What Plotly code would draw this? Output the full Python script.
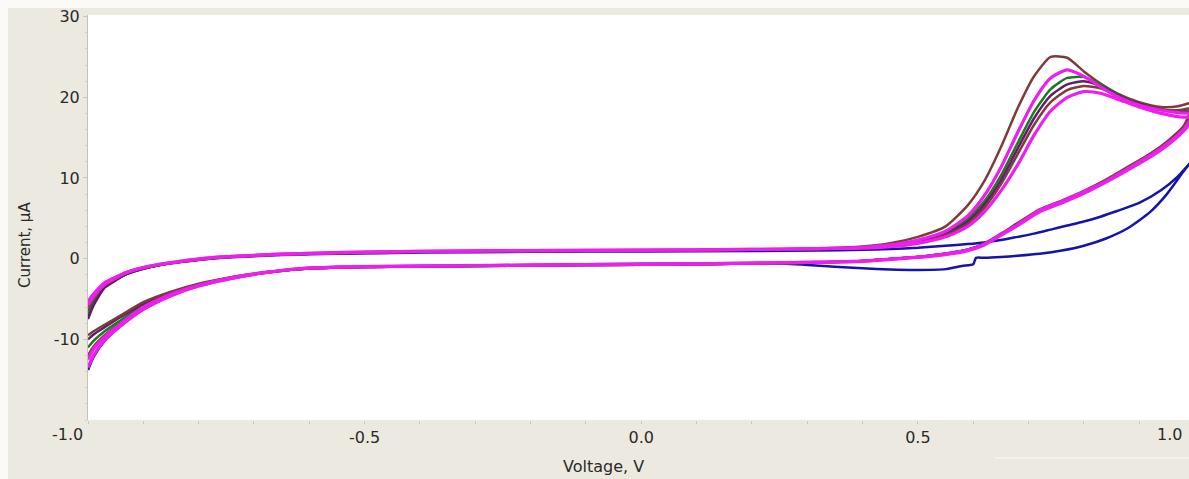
import plotly.graph_objects as go

# ---------------- data ----------------
V_FWD = [-1.0, -0.99, -0.97, -0.95, -0.93, -0.90, -0.87, -0.83, -0.78, -0.72, -0.65,
         -0.55, -0.40, -0.20, 0.0, 0.20, 0.32, 0.40, 0.45, 0.50, 0.55, 0.59, 0.62,
         0.65, 0.68, 0.71, 0.74, 0.77, 0.80, 0.83, 0.86, 0.90, 0.94, 0.97, 1.0]

V_REV = [1.0, 0.98, 0.95, 0.92, 0.88, 0.84, 0.80, 0.76, 0.72, 0.68, 0.65, 0.62, 0.59,
         0.55, 0.50, 0.45, 0.40, 0.30, 0.10, -0.10, -0.30, -0.45, -0.55, -0.62, -0.68,
         -0.74, -0.80, -0.85, -0.90, -0.94, -0.97, -0.99, -1.0]

# forward sweeps (anodic) of the six scans that show the oxidation peak
I_FWD_BROWN1 = [-6.5, -5.2, -3.4, -2.5, -1.8, -1.2, -0.75, -0.35, 0.05, 0.3, 0.5,
                0.7, 0.85, 0.95, 1.0, 1.1, 1.25, 1.5, 1.9, 2.7, 4.0, 6.6, 9.6,
                13.8, 18.6, 22.6, 25.0, 24.9, 23.2, 21.7, 20.5, 19.4, 18.8, 18.9, 19.5]
I_FWD_MAGENTA1 = [-5.3, -4.4, -3.0, -2.3, -1.7, -1.1, -0.7, -0.3, 0.1, 0.35, 0.55,
                  0.75, 0.9, 1.0, 1.05, 1.15, 1.25, 1.4, 1.7, 2.3, 3.4, 5.3, 7.8,
                  11.3, 15.6, 19.6, 22.4, 23.4, 22.6, 21.3, 20.1, 19.0, 18.4, 18.1, 18.0]
I_FWD_GREEN = [-7.0, -5.5, -3.5, -2.6, -1.9, -1.2, -0.8, -0.35, 0.05, 0.3, 0.5,
               0.7, 0.85, 0.95, 1.0, 1.1, 1.2, 1.4, 1.7, 2.2, 3.2, 4.9, 7.1,
               10.3, 14.3, 18.2, 21.0, 22.4, 22.5, 21.6, 20.4, 19.2, 18.5, 18.3, 18.4]
I_FWD_PURPLE = [-7.5, -5.8, -3.6, -2.7, -1.9, -1.25, -0.8, -0.4, 0.0, 0.3, 0.5,
                0.7, 0.85, 0.95, 1.0, 1.1, 1.2, 1.4, 1.6, 2.1, 3.0, 4.6, 6.7,
                9.7, 13.6, 17.4, 20.2, 21.6, 22.0, 21.4, 20.3, 19.2, 18.5, 18.2, 18.2]
I_FWD_BROWN2 = [-6.0, -4.9, -3.3, -2.5, -1.8, -1.2, -0.75, -0.35, 0.05, 0.3, 0.5,
                0.7, 0.85, 0.95, 1.0, 1.1, 1.2, 1.4, 1.6, 2.0, 2.9, 4.3, 6.3,
                9.2, 12.9, 16.6, 19.4, 20.9, 21.4, 21.1, 20.2, 19.1, 18.5, 18.4, 18.8]
I_FWD_MAGENTA2 = [-5.8, -4.7, -3.2, -2.4, -1.7, -1.1, -0.7, -0.3, 0.1, 0.35, 0.55,
                  0.75, 0.9, 1.0, 1.05, 1.15, 1.25, 1.3, 1.5, 1.9, 2.7, 4.0, 5.8,
                  8.4, 11.6, 15.3, 18.3, 20.0, 20.7, 20.5, 19.8, 18.8, 18.0, 17.6, 17.5]

# reverse sweeps (cathodic)
I_REV_BROWN1 = [19.5, 16.4, 14.5, 13.0, 11.4, 9.8, 8.4, 7.2, 6.1, 4.4, 3.1, 1.9, 1.1,
                0.6, 0.2, -0.05, -0.3, -0.5, -0.7, -0.8, -0.9, -1.0, -1.1, -1.3, -1.75,
                -2.4, -3.3, -4.4, -6.0, -7.9, -9.5, -10.9, -12.0]
I_REV_MAGENTA1 = [18.0, 16.0, 14.2, 12.8, 11.2, 9.6, 8.3, 7.1, 6.0, 4.2, 3.0, 1.8, 1.1,
                  0.6, 0.2, -0.05, -0.3, -0.45, -0.65, -0.75, -0.85, -0.95, -1.05, -1.25, -1.7,
                  -2.35, -3.3, -4.4, -6.0, -8.0, -9.7, -11.2, -12.5]
I_REV_GREEN = [18.4, 16.1, 14.3, 12.9, 11.3, 9.7, 8.3, 7.1, 6.0, 4.3, 3.0, 1.8, 1.1,
               0.6, 0.2, -0.05, -0.3, -0.5, -0.7, -0.8, -0.9, -1.0, -1.1, -1.3, -1.75,
               -2.4, -3.3, -4.3, -5.8, -7.6, -9.0, -10.2, -11.0]
I_REV_PURPLE = [18.2, 16.0, 14.2, 12.8, 11.2, 9.6, 8.2, 7.0, 5.9, 4.2, 3.0, 1.8, 1.1,
                0.6, 0.2, -0.05, -0.3, -0.5, -0.7, -0.8, -0.9, -1.0, -1.1, -1.3, -1.7,
                -2.3, -3.2, -4.2, -5.6, -7.2, -8.5, -9.4, -10.0]
I_REV_BROWN2 = [18.8, 16.2, 14.4, 13.0, 11.3, 9.7, 8.3, 7.1, 6.0, 4.3, 3.0, 1.8, 1.1,
                0.6, 0.2, -0.05, -0.3, -0.5, -0.7, -0.8, -0.9, -1.0, -1.1, -1.3, -1.7,
                -2.3, -3.1, -4.1, -5.4, -7.0, -8.2, -9.0, -9.5]
I_REV_MAGENTA2 = [17.5, 15.8, 14.0, 12.6, 11.0, 9.5, 8.1, 6.9, 5.8, 4.1, 2.9, 1.7, 1.0,
                  0.5, 0.15, -0.1, -0.35, -0.45, -0.65, -0.75, -0.85, -0.95, -1.05, -1.25, -1.75,
                  -2.45, -3.4, -4.6, -6.3, -8.3, -10.1, -12.0, -13.5]

# blank scan (no oxidation peak)
V_FWD_BLUE = [-1.0, -0.99, -0.97, -0.95, -0.93, -0.90, -0.87, -0.83, -0.78, -0.72, -0.65,
              -0.55, -0.40, -0.20, 0.0, 0.20, 0.32, 0.40, 0.45, 0.50, 0.55, 0.59, 0.62,
              0.65, 0.68, 0.71, 0.74, 0.77, 0.80, 0.83, 0.86, 0.90, 0.94, 0.97, 1.0]
I_FWD_BLUE = [-7.2, -5.6, -3.5, -2.6, -1.9, -1.25, -0.8, -0.4, 0.0, 0.25, 0.45,
              0.6, 0.75, 0.85, 0.9, 0.95, 1.0, 1.1, 1.2, 1.35, 1.6, 1.8, 2.0,
              2.3, 2.7, 3.1, 3.6, 4.1, 4.6, 5.2, 5.9, 6.9, 8.5, 10.2, 12.5]
V_REV_BLUE = [1.0, 0.98, 0.95, 0.92, 0.88, 0.84, 0.80, 0.76, 0.72, 0.68, 0.65, 0.62,
              0.605, 0.60, 0.58, 0.55, 0.50, 0.45, 0.40, 0.35, 0.25, 0.10, -0.10, -0.30,
              -0.45, -0.55, -0.62, -0.68, -0.74, -0.80, -0.85, -0.90, -0.94, -0.97, -0.99, -1.0]
I_REV_BLUE = [12.5, 10.8, 8.0, 5.8, 3.8, 2.5, 1.6, 1.0, 0.6, 0.35, 0.2, 0.1,
              0.1, -0.7, -0.9, -1.3, -1.4, -1.35, -1.2, -1.0, -0.6, -0.6, -0.7, -0.85,
              -0.95, -1.05, -1.25, -1.75, -2.45, -3.4, -4.6, -6.3, -8.3, -10.2, -12.2, -13.8]

SCANS = [
    ("blank", "#1414a8", 2.5, V_FWD_BLUE, I_FWD_BLUE, V_REV_BLUE, I_REV_BLUE),
    ("scan 1", "#7d3b3b", 2.5, V_FWD, I_FWD_BROWN1, V_REV, I_REV_BROWN1),
    ("scan 3", "#1f7a1f", 2.5, V_FWD, I_FWD_GREEN, V_REV, I_REV_GREEN),
    ("scan 4", "#5e1f68", 2.5, V_FWD, I_FWD_PURPLE, V_REV, I_REV_PURPLE),
    ("scan 5", "#7d3b3b", 2.5, V_FWD, I_FWD_BROWN2, V_REV, I_REV_BROWN2),
    ("scan 2", "#ee1eee", 3.2, V_FWD, I_FWD_MAGENTA1, V_REV, I_REV_MAGENTA1),
    ("scan 6", "#ee1eee", 3.2, V_FWD, I_FWD_MAGENTA2, V_REV, I_REV_MAGENTA2),
]

X_TICKS = [-0.5, 0.0, 0.5]
X_TICK_TEXT = ["-0.5", "0.0", "0.5"]
Y_TICKS = [-10, 0, 10, 20, 30]
Y_TICK_TEXT = ["-10", "0", "10", "20", "30"]

# ---------------- figure ----------------
W, H = 1189, 479
ML, MR, MT, MB = 88, 0, 15, 59
PW, PH = W - ML - MR, H - MT - MB


def px_x(page_x):
    return (page_x - ML) / PW


def px_y(page_y):
    return (H - MB - page_y) / PH


fig = go.Figure()
for name, color, width, vf, i_f, vr, i_r in SCANS:
    fig.add_trace(go.Scatter(
        x=list(vf) + list(vr), y=list(i_f) + list(i_r),
        mode="lines", name=name,
        line=dict(color=color, width=width, shape="spline", smoothing=0.6),
        hoverinfo="skip",
    ))

FONT = "DejaVu Sans, Verdana, sans-serif"
tick_font = dict(family=FONT, size=16, color="#2a2a2a")

fig.update_layout(
    width=W, height=H,
    margin=dict(l=ML, r=MR, t=MT, b=MB),
    paper_bgcolor="#ece9e0",
    plot_bgcolor="#ffffff",
    showlegend=False,
    xaxis=dict(
        range=[-1.0, 0.99], tickvals=X_TICKS, ticktext=X_TICK_TEXT,
        showgrid=False, zeroline=False, showline=False,
        ticks="outside", ticklen=3, tickcolor="#c9c6bd",
        tickfont=tick_font,
        minor=dict(dtick=0.1, ticks="outside", ticklen=3, tickcolor="#c9c6bd"),
    ),
    yaxis=dict(
        range=[-20, 30.2], tickvals=Y_TICKS, ticktext=Y_TICK_TEXT,
        showgrid=False, zeroline=False,
        showline=True, linecolor="#c4c1b8", linewidth=1,
        ticks="outside", ticklen=4, tickcolor="#c9c6bd",
        tickfont=tick_font, ticklabeloverflow="allow",
        minor=dict(dtick=2, ticks="outside", ticklen=2, tickcolor="#d2cfc6"),
    ),
)

# end tick labels that the original draws shifted inside the figure
fig.add_annotation(x=-1.0, y=0, xref="x", yref="paper", yanchor="top", xanchor="right",
                   text="-1.0", showarrow=False, xshift=-3, yshift=-3, font=tick_font)
fig.add_annotation(x=1.0, y=0, xref="paper", yref="paper", yanchor="top", xanchor="right",
                   text="1.0", showarrow=False, xshift=-5, yshift=-3, font=tick_font)

# axis titles
fig.add_annotation(x=px_x(603), y=px_y(466), xref="paper", yref="paper",
                   text="Voltage, V", showarrow=False, xanchor="center", yanchor="middle",
                   font=dict(family=FONT, size=16, color="#2a2a2a"))
fig.add_annotation(x=px_x(25), y=px_y(245), xref="paper", yref="paper",
                   text="Current, μA", textangle=-90, showarrow=False,
                   xanchor="center", yanchor="middle",
                   font=dict(family=FONT, size=15, color="#2a2a2a"))

# light strips along the left and top edges of the original screenshot
fig.add_shape(type="rect", xref="paper", yref="paper", x0=px_x(0), x1=px_x(8),
              y0=px_y(H), y1=px_y(0), fillcolor="#fbfaf7", line=dict(width=0), layer="below")
fig.add_shape(type="rect", xref="paper", yref="paper", x0=px_x(0), x1=px_x(W),
              y0=px_y(8), y1=px_y(0), fillcolor="#fbfaf7", line=dict(width=0), layer="below")

# faint line near the bottom right of the original
fig.add_shape(type="line", xref="paper", yref="paper", x0=px_x(995), x1=1.0,
              y0=px_y(458), y1=px_y(458), line=dict(color="#f7f5f0", width=1.5))

fig.write_html("out.html", config={"displayModeBar": False},
               post_script="document.body.style.margin='0';document.body.style.overflow='hidden';")
